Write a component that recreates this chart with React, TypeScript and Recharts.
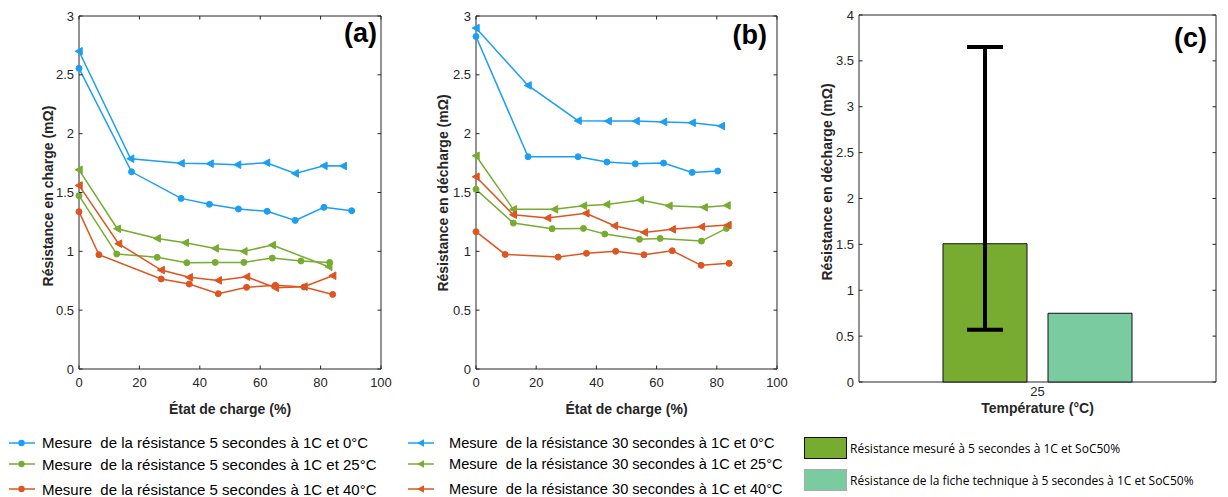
import React from "react";
import { LineChart, Line, BarChart, Bar, ErrorBar, XAxis, YAxis, ReferenceArea } from "recharts";

// ---- data ----
const socTicks = [0, 20, 40, 60, 80, 100];
const resTicks = [0, 0.5, 1, 1.5, 2, 2.5, 3];
const barTicks = [0, 0.5, 1, 1.5, 2, 2.5, 3, 3.5, 4];

// (a) charge
const aSoc5_0 = [0, 17.4, 33.8, 43.2, 52.8, 62.3, 71.6, 81.1, 90.3];
const aRes5_0 = [2.555, 1.676, 1.45, 1.4, 1.36, 1.34, 1.263, 1.374, 1.345];
const aSoc30_0 = [0, 17.1, 33.8, 43.4, 52.5, 62.1, 71.6, 81.1, 87.5];
const aRes30_0 = [2.7, 1.787, 1.748, 1.745, 1.736, 1.753, 1.662, 1.727, 1.725];
const aSoc5_25 = [0, 12.5, 25.9, 35.7, 45.1, 54.6, 64.0, 73.5, 83.0];
const aRes5_25 = [1.473, 0.977, 0.949, 0.903, 0.906, 0.906, 0.943, 0.918, 0.906];
const aSoc30_25 = [0, 12.7, 25.9, 35.2, 45.1, 54.6, 64.0, 82.7];
const aRes30_25 = [1.693, 1.192, 1.11, 1.073, 1.025, 1.0, 1.053, 0.869];
const aSoc5_40 = [0, 6.6, 27.2, 36.5, 46.1, 55.5, 65.0, 74.5, 84.0];
const aRes5_40 = [1.337, 0.971, 0.765, 0.722, 0.64, 0.694, 0.711, 0.697, 0.634];
const aSoc30_40 = [0, 13.1, 27.2, 36.5, 46.1, 55.5, 65.0, 74.5, 84.0];
const aRes30_40 = [1.56, 1.065, 0.841, 0.779, 0.753, 0.784, 0.69, 0.7, 0.793];

// (b) décharge
const bSoc5_0 = [0, 17.3, 33.9, 43.5, 52.9, 62.3, 71.8, 80.3];
const bRes5_0 = [2.826, 1.804, 1.804, 1.759, 1.744, 1.75, 1.671, 1.682];
const bSoc30_0 = [0, 17.3, 33.9, 43.9, 53.2, 62.3, 71.8, 81.5];
const bRes30_0 = [2.897, 2.41, 2.11, 2.107, 2.107, 2.1, 2.093, 2.065];
const bSoc5_25 = [0, 12.4, 25.3, 35.7, 42.8, 54.3, 61.2, 74.9, 83.2];
const bRes5_25 = [1.527, 1.24, 1.192, 1.195, 1.147, 1.102, 1.11, 1.087, 1.195];
const bSoc30_25 = [0, 12.4, 26.1, 35.7, 43.4, 54.6, 64.1, 75.8, 83.4];
const bRes30_25 = [1.812, 1.357, 1.357, 1.387, 1.399, 1.436, 1.387, 1.374, 1.39];
const bSoc5_40 = [0, 9.7, 27.3, 36.7, 46.4, 55.8, 65.2, 74.8, 84.1];
const bRes5_40 = [1.167, 0.974, 0.951, 0.983, 1.0, 0.971, 1.005, 0.881, 0.898];
const bSoc30_40 = [0, 12.4, 23.8, 36.5, 46.0, 55.9, 65.2, 74.9, 83.7];
const bRes30_40 = [1.634, 1.311, 1.283, 1.323, 1.217, 1.161, 1.187, 1.209, 1.223];

// (c) barres
const tempCategories = ["25"];
const measured = [1.507];
const measuredLow = [0.57];
const measuredHigh = [3.65];
const datasheet = [0.749];

const legendLabels = [
  "Mesure  de la résistance 5 secondes à 1C et 0°C",
  "Mesure  de la résistance 5 secondes à 1C et 25°C",
  "Mesure  de la résistance 5 secondes à 1C et 40°C",
  "Mesure  de la résistance 30 secondes à 1C et 0°C",
  "Mesure  de la résistance 30 secondes à 1C et 25°C",
  "Mesure  de la résistance 30 secondes à 1C et 40°C",
];
const barLegend = [
  "Résistance mesuré à 5 secondes à 1C et SoC50%",
  "Résistance de la fiche technique à 5 secondes à 1C et SoC50%",
];

const BLUE = "#1c9ff2";
const GREEN = "#77ac30";
const ORANGE = "#dd5520";
const LIGHT = "#7acca0";
const AXIS = "#262626";
const tickFont = { fontFamily: "'Liberation Sans', Arial, sans-serif", fontSize: 13, fill: AXIS };
const titleFont = { fontFamily: "'Liberation Sans', Arial, sans-serif", fontSize: 14, fontWeight: 700, fill: AXIS };

const zip = (xs: number[], ys: number[]) => xs.map((x, i) => ({ x, y: ys[i] }));

const circleDot = (color: string) => (p: any) => (
  <circle key={`c${p.index}`} cx={p.cx} cy={p.cy} r={3} fill={color} stroke={color} />
);
const triDot = (color: string) => (p: any) => (
  <path
    key={`t${p.index}`}
    d={`M${p.cx - 3.8},${p.cy} L${p.cx + 3.2},${p.cy - 3.8} L${p.cx + 3.2},${p.cy + 3.8} Z`}
    fill={color}
    stroke={color}
  />
);

const xTick = (top: number, bottom: number) => (p: any) => (
  <g>
    <line x1={p.x} x2={p.x} y1={bottom} y2={bottom - 3.5} stroke={AXIS} />
    <line x1={p.x} x2={p.x} y1={top} y2={top + 3.5} stroke={AXIS} />
    <text x={p.x} y={bottom + 18} textAnchor="middle" {...tickFont}>
      {p.payload.value}
    </text>
  </g>
);
const yTick = (left: number, right: number) => (p: any) => (
  <g>
    <line x1={left} x2={left + 3.5} y1={p.y} y2={p.y} stroke={AXIS} />
    <line x1={right - 3.5} x2={right} y1={p.y} y2={p.y} stroke={AXIS} />
    <text x={left - 5} y={p.y + 4.5} textAnchor="end" {...tickFont}>
      {p.payload.value}
    </text>
  </g>
);
const vTitle = (text: string, cx: number, cy: number) => ({
  value: text,
  content: () => (
    <text x={cx} y={cy} transform={`rotate(-90, ${cx}, ${cy})`} textAnchor="middle" dy={5} {...titleFont}>
      {text}
    </text>
  ),
});
const hTitle = (text: string, cx: number, baseline: number) => ({
  value: text,
  content: () => (
    <text x={cx} y={baseline} textAnchor="middle" {...titleFont}>
      {text}
    </text>
  ),
});

type Series = { data: { x: number; y: number }[]; color: string; tri: boolean };

function SocPanel(props: {
  left: number;
  yAxisW: number;
  rightMargin: number;
  series: Series[];
  yTitle: string;
  yTitleX: number;
  yTitleY: number;
}) {
  const W = 400;
  const H = 420;
  const top = 16;
  const bottom = 369;
  const plotLeft = props.yAxisW;
  const plotRight = W - props.rightMargin;
  return (
    <div style={{ position: "absolute", left: props.left, top: 0 }}>
      <LineChart width={W} height={H} margin={{ top, right: props.rightMargin, left: 0, bottom: 0 }}>
        <XAxis
          dataKey="x"
          type="number"
          domain={[0, 100]}
          ticks={socTicks}
          height={H - bottom}
          axisLine={false}
          tickLine={false}
          tick={xTick(top, bottom)}
          label={hTitle("État de charge (%)", (plotLeft + plotRight) / 2, 414)}
        />
        <YAxis
          type="number"
          domain={[0, 3]}
          ticks={resTicks}
          width={props.yAxisW}
          axisLine={false}
          tickLine={false}
          tick={yTick(plotLeft, plotRight)}
          label={vTitle(props.yTitle, props.yTitleX, props.yTitleY)}
        />
        <ReferenceArea y1={0} y2={3} fill="none" stroke={AXIS} strokeWidth={1} />
        {props.series.map((s, i) => (
          <Line
            key={i}
            data={s.data}
            dataKey="y"
            stroke={s.color}
            strokeWidth={1.5}
            dot={s.tri ? triDot(s.color) : circleDot(s.color)}
            isAnimationActive={false}
          />
        ))}
      </LineChart>
    </div>
  );
}

const panelLabel = (text: string, right: number, top: number) => (
  <div
    style={{
      position: "absolute",
      right,
      top,
      fontFamily: "'Liberation Sans', Arial, sans-serif",
      fontWeight: 700,
      fontSize: 27,
      lineHeight: "27px",
      color: "#000",
    }}
  >
    {text}
  </div>
);

// line icon spans 26px, text starts a few px after it
function LegendRow(props: { x: number; y: number; color: string; tri: boolean; text: string; gap: number; size: number }) {
  return (
    <div style={{ position: "absolute", left: props.x, top: props.y - 10, height: 20, display: "flex", alignItems: "center", whiteSpace: "pre" }}>
      <svg width={26} height={20}>
        <line x1={0} x2={26} y1={10} y2={10} stroke={props.color} strokeWidth={1.5} />
        {props.tri ? (
          <path d="M9,10 L16,6.2 L16,13.8 Z" fill={props.color} />
        ) : (
          <circle cx={12.5} cy={10} r={3.2} fill={props.color} />
        )}
      </svg>
      <span
        style={{
          marginLeft: props.gap,
          fontFamily: "'Liberation Sans', Arial, sans-serif",
          fontSize: props.size,
          color: "#000",
        }}
      >
        {props.text}
      </span>
    </div>
  );
}

export default function App() {
  const aSeries: Series[] = [
    { data: zip(aSoc5_0, aRes5_0), color: BLUE, tri: false },
    { data: zip(aSoc30_0, aRes30_0), color: BLUE, tri: true },
    { data: zip(aSoc5_25, aRes5_25), color: GREEN, tri: false },
    { data: zip(aSoc30_25, aRes30_25), color: GREEN, tri: true },
    { data: zip(aSoc5_40, aRes5_40), color: ORANGE, tri: false },
    { data: zip(aSoc30_40, aRes30_40), color: ORANGE, tri: true },
  ];
  const bSeries: Series[] = [
    { data: zip(bSoc5_0, bRes5_0), color: BLUE, tri: false },
    { data: zip(bSoc30_0, bRes30_0), color: BLUE, tri: true },
    { data: zip(bSoc5_25, bRes5_25), color: GREEN, tri: false },
    { data: zip(bSoc30_25, bRes30_25), color: GREEN, tri: true },
    { data: zip(bSoc5_40, bRes5_40), color: ORANGE, tri: false },
    { data: zip(bSoc30_40, bRes30_40), color: ORANGE, tri: true },
  ];
  const barData = tempCategories.map((t, i) => ({
    t,
    mesure: measured[i],
    err: [measured[i] - measuredLow[i], measuredHigh[i] - measured[i]],
    fiche: datasheet[i],
  }));
  const legendColors = [BLUE, GREEN, ORANGE];
  const rowsY = [442.5, 464, 489];

  const cTop = 15;
  const cBottom = 382;
  const cW = 428;
  const cYW = 59;
  const cRight = 12;

  return (
    <div style={{ position: "absolute", left: 0, top: 0, width: 1228, height: 497, background: "#fff", overflow: "hidden" }}>
      <SocPanel left={0} yAxisW={79} rightMargin={19} series={aSeries} yTitle="Résistance en charge (mΩ)" yTitleX={48} yTitleY={196} />
      <SocPanel left={400} yAxisW={76} rightMargin={23} series={bSeries} yTitle="Résistance en décharge (mΩ)" yTitleX={43} yTitleY={193} />

      <div style={{ position: "absolute", left: 800, top: 0 }}>
        <BarChart width={cW} height={420} data={barData} margin={{ top: cTop, right: cRight, left: 0, bottom: 0 }} barSize={84} barGap={21}>
          <XAxis
            dataKey="t"
            height={420 - cBottom}
            axisLine={false}
            tickLine={false}
            tick={(p: any) => (
              <text x={p.x} y={cBottom + 14} textAnchor="middle" {...tickFont}>
                {p.payload.value}
              </text>
            )}
            label={hTitle("Température (°C)", cYW + (cW - cRight - cYW) / 2, 413)}
          />
          <YAxis
            type="number"
            domain={[0, 4]}
            ticks={barTicks}
            width={cYW}
            axisLine={false}
            tickLine={false}
            tick={yTick(cYW, cW - cRight)}
            label={vTitle("Résistance en décharge (mΩ)", 27, 182)}
          />
          <ReferenceArea y1={0} y2={4} fill="none" stroke={AXIS} strokeWidth={1} />
          <Bar dataKey="mesure" fill={GREEN} stroke="#111" strokeWidth={1} isAnimationActive={false}>
            <ErrorBar dataKey="err" width={18} strokeWidth={4} stroke="#000" direction="y" isAnimationActive={false} />
          </Bar>
          <Bar dataKey="fiche" fill={LIGHT} stroke="#111" strokeWidth={1} isAnimationActive={false} />
        </BarChart>
      </div>

      {panelLabel("(a)", 851, 20)}
      {panelLabel("(b)", 461, 22)}
      {panelLabel("(c)", 21, 25)}

      {legendLabels.slice(0, 3).map((t, i) => (
        <LegendRow key={`l${i}`} x={9} y={rowsY[i]} color={legendColors[i]} tri={false} text={t} gap={7} size={15} />
      ))}
      {legendLabels.slice(3).map((t, i) => (
        <LegendRow key={`r${i}`} x={408} y={rowsY[i]} color={legendColors[i]} tri={true} text={t} gap={15} size={14.6} />
      ))}

      {barLegend.map((t, i) => (
        <div key={`b${i}`} style={{ position: "absolute", left: 804, top: i === 0 ? 437 : 469, height: 22, display: "flex", alignItems: "center", whiteSpace: "nowrap" }}>
          <div
            style={{
              width: 41,
              height: 20,
              background: i === 0 ? GREEN : LIGHT,
              border: i === 0 ? "1.5px solid #111" : "1px solid #aaa",
            }}
          />
          <span style={{ marginLeft: 3, fontFamily: "'Open Sans', 'Noto Sans', sans-serif", fontSize: 12, color: "#000" }}>{t}</span>
        </div>
      ))}
    </div>
  );
}
